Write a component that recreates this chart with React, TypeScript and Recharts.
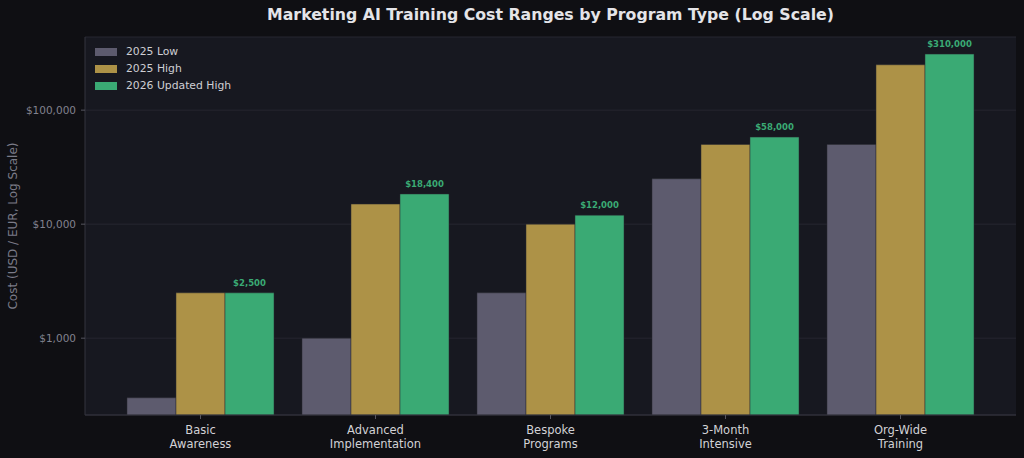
import React from "react";
import {Bar, BarChart, CartesianGrid, LabelList, XAxis, YAxis} from "recharts";

const programs = ["Basic\nAwareness", "Advanced\nImplementation", "Bespoke\nPrograms", "3-Month\nIntensive", "Org-Wide\nTraining"];
const low2025 = [300, 1000, 2500, 25000, 50000];
const high2025 = [2500, 15000, 10000, 50000, 250000];
const high2026 = [2500, 18400, 12000, 58000, 310000];
const majorTicks = [1000, 10000, 100000];
const minorTicks = [300, 400, 500, 600, 700, 800, 900, 2000, 3000, 4000, 5000, 6000, 7000, 8000, 9000,
	20000, 30000, 40000, 50000, 60000, 70000, 80000, 90000, 200000, 300000, 400000];

const data = programs.map((name, i) => ({
	name,
	low: low2025[i],
	high: high2025[i],
	updated: high2026[i],
}));

const FONT = "DejaVu Sans, sans-serif";
const GRAY = "#5d5b6e";
const GOLD = "#ad9247";
const GREEN = "#3aaa74";
const DOMAIN: [number, number] = [212, 438000];

function ProgramTick({x, y, payload}: any) {
	const lines = String(payload.value).split("\n");
	return (
		<text x={x} y={y + 13} textAnchor="middle" fill="#d2d2d6" fontSize={11.5} fontFamily={FONT}>
			{lines.map((line, i) => (
				<tspan key={i} x={x} dy={i === 0 ? 0 : 14}>{line}</tspan>
			))}
		</text>
	);
}

const NoLabel = () => <g/>;

function LegendBox() {
	const items = [
		{label: "2025 Low", color: GRAY},
		{label: "2025 High", color: GOLD},
		{label: "2026 Updated High", color: GREEN},
	];
	return (
		<div style={{position: "absolute", top: 43, left: 95, fontFamily: FONT, fontSize: 10.8, color: "#cfcfd4"}}>
			{items.map((it) => (
				<div key={it.label} style={{display: "flex", alignItems: "center", height: 17}}>
					<div style={{width: 22, height: 8, background: it.color, marginRight: 9}}/>
					<span>{it.label}</span>
				</div>
			))}
		</div>
	);
}

const money = (v: number) => `$${v.toLocaleString("en-US")}`;

export default function App() {
	return (
		<div style={{position: "fixed", left: 0, top: 0, width: 1024, height: 458, background: "#0f0f13"}}>
			<div style={{
				position: "absolute", top: 5, left: 85, width: 931, textAlign: "center",
				fontFamily: FONT, fontWeight: "bold", fontSize: 15.75, color: "#e4e4e8",
			}}>
				Marketing AI Training Cost Ranges by Program Type (Log Scale)
			</div>
			<BarChart width={1024} height={458} data={data}
			          margin={{top: 37, right: 8, bottom: 13, left: 0}}
			          barCategoryGap={14} barGap={0}>
				<CartesianGrid yAxisId="main" vertical={false} fill="#171820" stroke="#262630" strokeWidth={1}/>
				<XAxis dataKey="name" interval={0} padding={{left: 28, right: 28}} height={30}
				       axisLine={{stroke: "#34343e"}} tickLine={{stroke: "#55555f"}} tickSize={4}
				       tick={<ProgramTick/>}/>
				<YAxis yAxisId="minor" scale="log" domain={DOMAIN} allowDataOverflow
				       ticks={minorTicks} width={0} tick={<NoLabel/>} axisLine={false}
				       tickLine={{stroke: "#4a4a55"}} tickSize={2}/>
				<YAxis yAxisId="main" scale="log" domain={DOMAIN} allowDataOverflow
				       ticks={majorTicks} width={85} tickFormatter={money}
				       axisLine={{stroke: "#34343e"}} tickLine={{stroke: "#55555f"}} tickSize={4} tickMargin={5}
				       tick={{fontSize: 10.5, fill: "#82828f", fontFamily: FONT}}
				       label={{value: "Cost (USD / EUR, Log Scale)", angle: -90, position: "insideLeft",
					       offset: 13, style: {textAnchor: "middle", fill: "#7b7b88", fontSize: 12, fontFamily: FONT}}}/>
				<Bar yAxisId="main" dataKey="low" name="2025 Low" fill={GRAY} stroke="#2a2a33" strokeWidth={0.5}
				     isAnimationActive={false}/>
				<Bar yAxisId="main" dataKey="high" name="2025 High" fill={GOLD} stroke="#2a2a33" strokeWidth={0.5}
				     isAnimationActive={false}/>
				<Bar yAxisId="main" dataKey="updated" name="2026 Updated High" fill={GREEN} stroke="#2a2a33"
				     strokeWidth={0.5} isAnimationActive={false}>
					<LabelList dataKey="updated" position="top" offset={7} formatter={(v: any) => money(Number(v))}
					           style={{fill: GREEN, fontSize: 8.5, fontWeight: "bold", fontFamily: FONT}}/>
				</Bar>
			</BarChart>
			<LegendBox/>
		</div>
	);
}
